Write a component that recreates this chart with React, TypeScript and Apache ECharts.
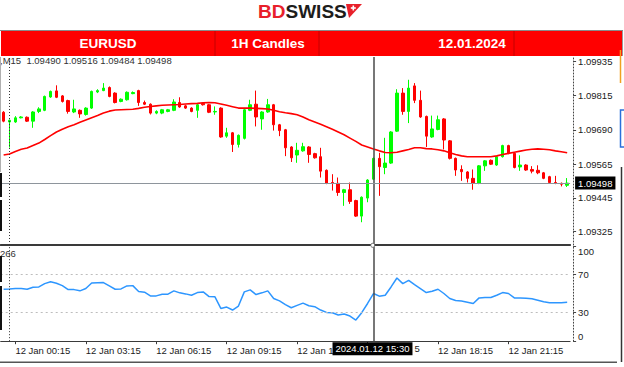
import React, { useEffect, useRef } from "react";
import * as echarts from "echarts";

// ---------- data (EURUSD M15, 11 Jan 23:45 .. 12 Jan 23:45) ----------
const TIMES: string[] = [];
for (let k = 0; k < 97; k++) {
  const m = (k - 1) * 15;
  const day = m < 0 ? 11 : 12;
  const mm = (m + 1440) % 1440;
  const hh = Math.floor(mm / 60);
  const mi = mm % 60;
  TIMES.push(`${day} Jan ${String(hh).padStart(2, "0")}:${String(mi).padStart(2, "0")}`);
}

const OPEN = [
  1.09753, 1.09718, 1.09718, 1.09733, 1.09735, 1.09721, 1.09756, 1.0976, 1.09808, 1.0983,
  1.09812, 1.09795, 1.09754, 1.0976, 1.09745, 1.09768, 1.09826, 1.09831, 1.09842, 1.09822,
  1.09792, 1.09798, 1.0982, 1.09831, 1.09788, 1.09782, 1.0975, 1.0975, 1.09756, 1.0976,
  1.09788, 1.09776, 1.09768, 1.0976, 1.09785, 1.0978, 1.09754, 1.09768, 1.09667, 1.09679,
  1.09637, 1.09659, 1.0976, 1.09782, 1.09729, 1.09754, 1.0978, 1.09708, 1.0969, 1.09628,
  1.09599, 1.09614, 1.09628, 1.09604, 1.09593, 1.09544, 1.095, 1.09497, 1.09464, 1.09474,
  1.09435, 1.09379, 1.09444, 1.09512, 1.09587, 1.09554, 1.0957, 1.09685, 1.09822, 1.09756,
  1.09848, 1.09796, 1.09738, 1.09664, 1.09691, 1.09729, 1.0965, 1.09587, 1.09547, 1.09538,
  1.09515, 1.09497, 1.0956, 1.0958, 1.09563, 1.09593, 1.09633, 1.09605, 1.09556, 1.09563,
  1.09547, 1.09544, 1.09535, 1.09521, 1.095, 1.09497, 1.0949,
];
const HIGH = [
  1.09757, 1.09727, 1.09739, 1.09739, 1.09738, 1.09757, 1.09771, 1.09813, 1.09831, 1.0985,
  1.09815, 1.09798, 1.09798, 1.09763, 1.09771, 1.09831, 1.09836, 1.09858, 1.09846, 1.09825,
  1.09803, 1.09828, 1.09828, 1.09834, 1.09795, 1.09785, 1.0976, 1.09765, 1.09765, 1.098,
  1.09807, 1.0978, 1.09771, 1.09783, 1.09788, 1.09783, 1.09774, 1.09771, 1.09697, 1.09682,
  1.09673, 1.09765, 1.09798, 1.09831, 1.09757, 1.09801, 1.09783, 1.09711, 1.09693, 1.09631,
  1.09643, 1.09643, 1.09631, 1.09607, 1.09625, 1.09547, 1.0953, 1.09518, 1.09477, 1.095,
  1.09438, 1.0945, 1.09512, 1.0959, 1.09607, 1.09661, 1.09685, 1.09836, 1.0984, 1.0987,
  1.09858, 1.09831, 1.09741, 1.09741, 1.09741, 1.09732, 1.09653, 1.0959, 1.09562, 1.09541,
  1.09547, 1.09563, 1.09581, 1.09583, 1.09596, 1.09636, 1.09636, 1.09608, 1.09598, 1.09566,
  1.09559, 1.09562, 1.09538, 1.09524, 1.09524, 1.095, 1.09516,
];
const LOW = [
  1.09717, 1.09626, 1.09715, 1.09731, 1.09718, 1.09697, 1.0975, 1.09757, 1.09805, 1.09804,
  1.09788, 1.09748, 1.0975, 1.09733, 1.09741, 1.09765, 1.09822, 1.09829, 1.09807, 1.09785,
  1.09789, 1.09795, 1.09818, 1.09776, 1.09779, 1.09745, 1.09746, 1.09746, 1.09753, 1.09757,
  1.09769, 1.09765, 1.09753, 1.09733, 1.09777, 1.0975, 1.09744, 1.09661, 1.09661, 1.0961,
  1.09626, 1.09655, 1.09757, 1.09702, 1.0969, 1.09751, 1.09687, 1.09667, 1.09595, 1.09574,
  1.09571, 1.09611, 1.09571, 1.09586, 1.09518, 1.09494, 1.09471, 1.09452, 1.09416, 1.09423,
  1.09376, 1.09357, 1.09429, 1.09509, 1.09452, 1.0953, 1.09567, 1.09682, 1.09744, 1.09714,
  1.09786, 1.09733, 1.09628, 1.09661, 1.09688, 1.09619, 1.09583, 1.09524, 1.09506, 1.095,
  1.09474, 1.09494, 1.09542, 1.09563, 1.0956, 1.0959, 1.09602, 1.09551, 1.09542, 1.09542,
  1.09533, 1.0953, 1.09512, 1.09497, 1.09494, 1.09486, 1.09484,
];
const CLOSE = [
  1.09721, 1.09724, 1.09733, 1.09736, 1.09721, 1.09754, 1.09765, 1.0981, 1.09828, 1.09807,
  1.09792, 1.09756, 1.09765, 1.09747, 1.09768, 1.09828, 1.09831, 1.0984, 1.0981, 1.09788,
  1.098, 1.09825, 1.09824, 1.09788, 1.09782, 1.0975, 1.09756, 1.09762, 1.09762, 1.0979,
  1.09772, 1.09768, 1.09756, 1.0978, 1.0978, 1.09753, 1.09756, 1.09664, 1.09679, 1.09637,
  1.0967, 1.09762, 1.0978, 1.09736, 1.09754, 1.0978, 1.09708, 1.09687, 1.09625, 1.09589,
  1.09616, 1.09629, 1.09601, 1.09589, 1.09541, 1.09497, 1.09497, 1.09464, 1.09474, 1.09432,
  1.09379, 1.09447, 1.09509, 1.09587, 1.09557, 1.0957, 1.09682, 1.09822, 1.09756, 1.0984,
  1.09796, 1.09736, 1.09667, 1.09693, 1.09726, 1.09653, 1.09587, 1.09545, 1.09539, 1.09515,
  1.09497, 1.0956, 1.09578, 1.09566, 1.09593, 1.09633, 1.09605, 1.09554, 1.09563, 1.09545,
  1.09541, 1.09535, 1.09515, 1.095, 1.09497, 1.09494, 1.09498,
];
const MA = [
  1.09599, 1.09603, 1.09612, 1.0962, 1.09624, 1.09633, 1.09642, 1.09655, 1.09669, 1.09682,
  1.09692, 1.09701, 1.09708, 1.09717, 1.09725, 1.09733, 1.09741, 1.0975, 1.09757, 1.09761,
  1.09762, 1.09763, 1.09764, 1.09767, 1.09771, 1.09774, 1.09776, 1.09778, 1.09779, 1.0978,
  1.09781, 1.09783, 1.09784, 1.09785, 1.09787, 1.09788, 1.09787, 1.09783, 1.09778, 1.09773,
  1.09768, 1.09768, 1.09768, 1.09767, 1.09766, 1.09765, 1.0976, 1.09755, 1.09751, 1.09748,
  1.09744, 1.09736, 1.09726, 1.09718, 1.0971, 1.09701, 1.09692, 1.09682, 1.09672, 1.0966,
  1.09648, 1.09635, 1.09628, 1.09621, 1.09614, 1.09608, 1.09607, 1.09609, 1.09614, 1.09619,
  1.09625, 1.09625, 1.09622, 1.09621, 1.09618, 1.09614, 1.09607, 1.09601, 1.09596, 1.09593,
  1.09593, 1.09593, 1.09593, 1.09593, 1.09596, 1.09601, 1.09605, 1.09609, 1.09613, 1.09617,
  1.0962, 1.09621, 1.0962, 1.09618, 1.09614, 1.09611, 1.09607,
];
const RSI = [
  54.7, 55.0, 55.4, 55.4, 54.7, 56.8, 57.1, 60.6, 62.5, 61.0,
  58.5, 54.3, 54.3, 53.0, 55.4, 61.3, 61.5, 61.7, 58.2, 54.7,
  55.0, 58.2, 58.5, 52.3, 51.6, 47.7, 47.7, 49.5, 49.5, 53.0,
  50.9, 49.8, 48.4, 51.2, 51.9, 47.0, 46.7, 34.5, 35.9, 32.8,
  37.0, 51.9, 54.0, 49.1, 50.9, 53.0, 45.0, 42.5, 38.5, 35.2,
  37.7, 40.1, 37.3, 36.3, 32.8, 30.3, 30.0, 27.6, 28.6, 26.5,
  22.3, 30.0, 39.7, 50.2, 47.4, 48.4, 57.1, 66.5, 60.6, 64.1,
  59.6, 55.4, 51.2, 52.6, 54.7, 50.2, 45.0, 42.9, 42.2, 41.1,
  39.7, 45.6, 46.0, 46.0, 48.4, 51.2, 50.2, 45.6, 45.6, 45.3,
  44.6, 43.2, 41.5, 40.4, 40.4, 40.6, 41.1,
];
const PRICE_TICKS = [1.09325, 1.09445, 1.09565, 1.0969, 1.09815, 1.09935];
const RSI_TICKS = [0, 30, 70, 100];
const RSI_LEVELS = [30, 70];
const LAST_PRICE = 1.09498;
const SEPARATOR_TIME = "12 Jan 00:00";
const CURSOR_TIME = "12 Jan 15:30";
const CURSOR_LABEL = "2024.01.12 15:30";
const INFO_TEXT = ",M15  1.09490 1.09516 1.09484 1.09498";
const HEADER = ["EURUSD", "1H Candles", "12.01.2024"];
// x-axis labels partly hidden behind the cursor date box: visible fragments
const HIDDEN_LABEL_LEFT = "12 Jan 1";
const HIDDEN_LABEL_RIGHT_TAIL = "5";

const FONT = "Liberation Sans, Arial, sans-serif";

export default function App() {
  const ref = useRef<HTMLDivElement>(null);
  useEffect(() => {
    if (!ref.current) return;
    const chart = echarts.init(ref.current, undefined, { renderer: "svg" });
    const labelEvery = (idx: number) => idx >= 2 && (idx - 2) % 12 === 0;
    const candles = OPEN.map((o, k) => [o, CLOSE[k], LOW[k], HIGH[k]]);
    const txt = (text: string, x: number, y: number, font: string, fill: string, align = "left", extra: any = {}) => ({
      type: "text",
      z: 100,
      silent: true,
      style: {
        text, x, y, font, fill,
        align, verticalAlign: "middle", textAlign: align, textVerticalAlign: "middle",
        ...extra,
      },
    });
    const ln = (x1: number, y1: number, x2: number, y2: number, stroke: string, lineWidth = 1) => ({
      type: "line", z: 100, silent: true,
      shape: { x1, y1, x2, y2 },
      style: { stroke, lineWidth },
    });

    const option: any = {
      animation: false,
      backgroundColor: "#ffffff",
      textStyle: { fontFamily: FONT },
      grid: [
        { left: 0.7, top: 57, width: 569.4, height: 188, containLabel: false, outerBoundsMode: "none" },
        { left: 0.7, top: 246.2, width: 569.4, height: 95, containLabel: false, outerBoundsMode: "none" },
      ],
      xAxis: [
        {
          type: "category", gridIndex: 0, data: TIMES, boundaryGap: true,
          axisLine: { show: true, lineStyle: { color: "#3a3a3a", width: 2 } },
          axisTick: { show: false }, axisLabel: { show: false }, splitLine: { show: false },
        },
        {
          type: "category", gridIndex: 1, data: TIMES, boundaryGap: true,
          axisLine: { show: true, lineStyle: { color: "#3a3a3a", width: 1 } },
          axisTick: { show: true, interval: labelEvery, alignWithLabel: true, length: 3, lineStyle: { color: "#3a3a3a" } },
          axisLabel: {
            interval: labelEvery, align: "left", margin: 4, fontSize: 9.5, color: "#1a1a1a", fontFamily: FONT,
            formatter: (v: string, idx: number) => (idx === 50 ? HIDDEN_LABEL_LEFT : idx === 62 ? "" : v),
          },
          splitLine: { show: false },
        },
      ],
      yAxis: [
        {
          type: "value", gridIndex: 0, position: "right", offset: 3,
          min: 1.09275, max: 1.09952,
          axisLine: { show: true, lineStyle: { color: "#444", type: [1, 2], width: 1 } },
          axisTick: { show: true, length: 3, customValues: PRICE_TICKS, lineStyle: { color: "#444" } },
          axisLabel: {
            customValues: PRICE_TICKS, formatter: (v: number) => v.toFixed(5),
            margin: 5, fontSize: 9.5, color: "#1a1a1a", fontFamily: FONT,
          },
          splitLine: { show: false },
        },
        {
          type: "value", gridIndex: 1, position: "right", offset: 3, min: 0, max: 100,
          axisLine: { show: true, lineStyle: { color: "#444", type: [1, 2], width: 1 } },
          axisTick: { show: true, length: 3, customValues: RSI_TICKS, lineStyle: { color: "#444" } },
          axisLabel: {
            customValues: RSI_TICKS, formatter: (v: number) => String(Math.round(v)),
            margin: 5, fontSize: 9.5, color: "#1a1a1a", fontFamily: FONT,
            verticalAlignMinLabel: "bottom", verticalAlignMaxLabel: "top",
          },
          splitLine: { show: false },
        },
      ],
      series: [
        {
          type: "candlestick", xAxisIndex: 0, yAxisIndex: 0, data: candles, barWidth: 3,
          silent: true,
          itemStyle: { color: "#00ff00", color0: "#ff0000", borderColor: "#00ff00", borderColor0: "#ff0000", borderWidth: 1 },
          markLine: {
            silent: true, symbol: ["none", "none"], animation: false,
            label: { show: false },
            data: [
              { xAxis: SEPARATOR_TIME, lineStyle: { color: "#333", width: 1, type: [1, 2] } },
              { xAxis: CURSOR_TIME, lineStyle: { color: "#4a4a4a", width: 1.5, type: "solid" } },
            ],
          },
        },
        {
          type: "line", xAxisIndex: 0, yAxisIndex: 0, data: MA, symbol: "none", silent: true,
          lineStyle: { color: "#ff0000", width: 1.6 }, z: 3,
          markLine: {
            silent: true, symbol: ["none", "none"], animation: false, precision: 5,
            data: [
              {
                yAxis: LAST_PRICE,
                lineStyle: { color: "#8e959c", width: 1, type: "solid" },
                label: {
                  show: true, position: "end", distance: 5, formatter: LAST_PRICE.toFixed(5),
                  backgroundColor: "#000", color: "#fff", padding: [2, 3, 1, 3], fontSize: 9.5, fontFamily: FONT,
                },
              },
            ],
          },
        },
        {
          type: "line", xAxisIndex: 1, yAxisIndex: 1, data: RSI, symbol: "none", silent: true,
          lineStyle: { color: "#2d96ff", width: 1.5 },
          markLine: {
            silent: true, symbol: ["none", "none"], animation: false,
            label: { show: false },
            data: [
              ...RSI_LEVELS.map((v) => ({ yAxis: v, lineStyle: { color: "#bdbdbd", width: 1, type: [2, 3] } })),
              { xAxis: SEPARATOR_TIME, lineStyle: { color: "#333", width: 1, type: [1, 2] } },
              { xAxis: CURSOR_TIME, lineStyle: { color: "#4a4a4a", width: 1.5, type: "solid" } },
            ],
          },
        },
      ],
      graphic: [
        // logo
        txt("BD", 258, 11.5, `bold 19px ${FONT}`, "#e8202a"),
        txt("SWISS", 285.5, 11.5, `bold 19px ${FONT}`, "#1d1d1b"),
        { type: "polygon", z: 100, silent: true, shape: { points: [[346, 4], [362, 4], [349, 18]] }, style: { fill: "#e8202a" } },
        { type: "rect", z: 101, silent: true, shape: { x: 350.8, y: 7.2, width: 5, height: 1.6 }, style: { fill: "#fff" } },
        { type: "rect", z: 101, silent: true, shape: { x: 352.5, y: 5.5, width: 1.6, height: 5 }, style: { fill: "#fff" } },
        // header bar
        { type: "rect", z: 100, silent: true, shape: { x: 1, y: 31, width: 621, height: 25 }, style: { fill: "#ff0000" } },
        ln(0, 30.5, 623, 30.5, "#8a8a8a", 1),
        ln(215, 31, 215, 56, "#c40000", 1),
        ln(319, 31, 319, 56, "#c40000", 1),
        ln(514, 31, 514, 56, "#c40000", 1),
        ln(622.5, 31, 622.5, 56, "#9a9a9a", 1),
        txt(HEADER[0], 108, 43.5, `bold 13.5px ${FONT}`, "#ffffff", "center"),
        txt(HEADER[1], 268, 43.5, `bold 13.5px ${FONT}`, "#ffffff", "center"),
        txt(HEADER[2], 472, 43.5, `bold 13.5px ${FONT}`, "#ffffff", "center"),
        // info texts
        txt(INFO_TEXT, 0, 60, `9.5px ${FONT}`, "#333333"),
        txt("266", 0, 253.5, `9.5px ${FONT}`, "#333333"),
        // cursor date label
        txt(CURSOR_LABEL, 372.5, 348.8, `9.5px ${FONT}`, "#ffffff", "center", {
          backgroundColor: "#000000", padding: [2, 3, 1, 3],
        }),
        txt(HIDDEN_LABEL_RIGHT_TAIL, 414.5, 348.8, `9.5px ${FONT}`, "#1a1a1a"),
        { type: "circle", z: 101, silent: true, shape: { cx: 372.7, cy: 245.3, r: 2 }, style: { fill: "#fff", stroke: "#666", lineWidth: 1 } },
        // frame fragments
        ln(0, 362.3, 617, 362.3, "#555", 1.5),
        ln(620.5, 50, 620.5, 83, "#f0a020", 1.5),
        { type: "polyline", z: 100, silent: true, shape: { points: [[624, 110], [620.5, 110], [620.5, 147], [624, 147]] }, style: { stroke: "#2a6fdb", lineWidth: 1.5, fill: "none" } },
        ln(621.5, 167, 621.5, 362, "#333", 1.5),
        ln(0.5, 57, 0.5, 172, "#b0b0b0", 1),
        ln(1, 173, 1, 197, "#111", 2),
        ln(1, 200, 1, 231, "#111", 2),
        ln(1, 256, 1, 282, "#111", 2),
        ln(1, 286, 1, 330, "#111", 2),
      ],
    };
    chart.setOption(option);
    return () => chart.dispose();
  }, []);
  return (
    <div
      ref={ref}
      style={{ position: "fixed", left: 0, top: 0, width: 624, height: 367, background: "#fff" }}
    />
  );
}
